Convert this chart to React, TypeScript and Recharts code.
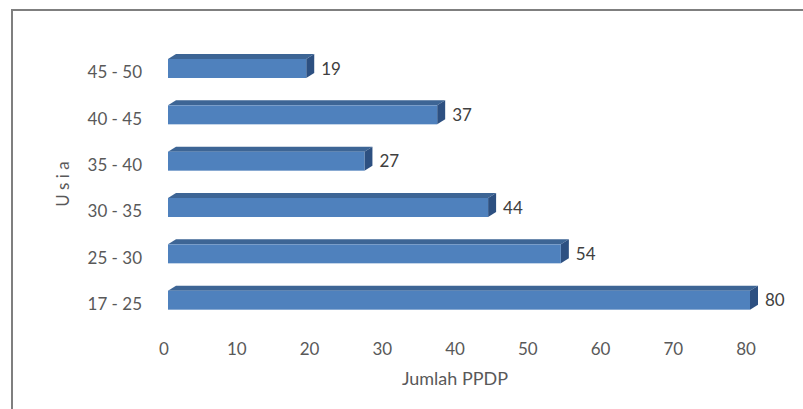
import React from 'react';
import { BarChart, Bar, XAxis, YAxis, LabelList } from 'recharts';

// age groups, top to bottom as drawn
const ageGroups = ['45 - 50', '40 - 45', '35 - 40', '30 - 35', '25 - 30', '17 - 25'];
const jumlah = [19, 37, 27, 44, 54, 80];
const xTicks = [0, 10, 20, 30, 40, 50, 60, 70, 80];

const data = ageGroups.map((usia, i) => ({ usia, jumlah: jumlah[i] }));

const font = 'Lato, "Open Sans", sans-serif';

// bar with a fake 3D top and side like the Excel original
const Bar3D = (props: any) => {
  const { x, y, width, height } = props;
  if (width <= 0) return null;
  const dx = 8;
  const dy = 5;
  return (
    <g>
      <polygon
        points={`${x},${y} ${x + dx},${y - dy} ${x + width + dx},${y - dy} ${x + width},${y}`}
        fill="#3d6595"
      />
      <polygon
        points={`${x + width},${y} ${x + width + dx},${y - dy} ${x + width + dx},${y + height - dy} ${x + width},${y + height}`}
        fill="#2d5081"
      />
      <rect x={x} y={y} width={width} height={height} fill="#4f81bd" />
    </g>
  );
};

const YLabel = (props: any) => {
  const vb = props.viewBox || {};
  const cy = vb.y + vb.height / 2;
  return (
    <text
      x={62}
      y={cy}
      transform={`rotate(-90 62 ${cy})`}
      textAnchor="middle"
      dominantBaseline="central"
      fill="#595959"
      fontSize={17}
      fontFamily={font}
    >
      U s i a
    </text>
  );
};

const XLabel = (props: any) => {
  const vb = props.viewBox || {};
  return (
    <text
      x={455}
      y={378}
      textAnchor="middle"
      dominantBaseline="central"
      fill="#595959"
      fontSize={18}
      fontFamily={font}
    >
      Jumlah PPDP
    </text>
  );
};

export default function App() {
  return (
    <div style={{ position: 'absolute', left: 0, top: 0, width: 803, height: 409, background: '#fff' }}>
      <div
        style={{
          position: 'absolute',
          left: 11,
          top: 9,
          width: 800,
          height: 410,
          borderLeft: '2px solid #7f7f7f',
          borderTop: '2px solid #7f7f7f',
        }}
      />
      <div style={{ position: 'absolute', left: 0, top: 0 }}>
        <BarChart
          width={803}
          height={409}
          data={data}
          layout="vertical"
          margin={{ top: 45, right: 53, left: 0, bottom: 26 }}
        >
          <XAxis
            type="number"
            domain={[0, 80]}
            ticks={xTicks}
            axisLine={false}
            tickLine={false}
            tickMargin={14}
            height={60}
            tick={{ fill: '#595959', fontSize: 17, fontFamily: font, dx: -4 }}
            label={<XLabel />}
          />
          <YAxis
            type="category"
            dataKey="usia"
            width={168}
            axisLine={false}
            tickLine={false}
            tickMargin={20}
            tick={{ fill: '#595959', fontSize: 17, fontFamily: font, dy: 4 }}
            label={<YLabel />}
          />
          <Bar dataKey="jumlah" barSize={19} shape={<Bar3D />} isAnimationActive={false}>
            <LabelList
              dataKey="jumlah"
              position="right"
              offset={15}
              fill="#404040"
              fontSize={17}
              fontFamily={font}
            />
          </Bar>
        </BarChart>
      </div>
    </div>
  );
}
